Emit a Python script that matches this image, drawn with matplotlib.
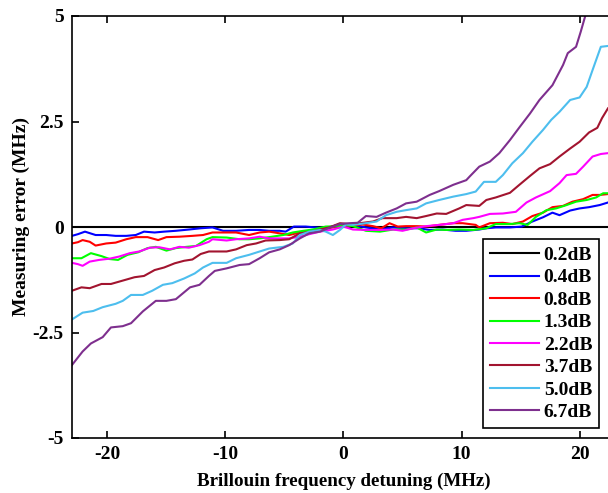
import numpy as np
import matplotlib
matplotlib.use("Agg")
import matplotlib.pyplot as plt

# legend labels and MATLAB-ish colours
labels = ['0.2dB', '0.4dB', '0.8dB', '1.3dB', '2.2dB', '3.7dB', '5.0dB', '6.7dB']
colors = ['black', (0, 0, 1), (1, 0, 0), (0, 1, 0), (1, 0, 1),
          (0.635, 0.078, 0.184), (0.301, 0.745, 0.933), (0.494, 0.184, 0.556)]

# 0.2dB
x_02 = [-23, -15, -5, 0, 5, 15, 22.4]
y_02 = [0, 0, 0, 0, 0, 0, 0]

# 0.4dB
x_04 = [-23, -22.5, -21.9, -21.0, -20.1, -19.3, -18.4, -17.6, -16.9, -16.0,
        -15.2, -14.2, -13.1, -12.1, -11.1, -10.2, -9.1, -8.0, -7.1, -6.3,
        -5.4, -4.9, -4.2, -3.2, -2.0, -1.2, -0.3, 0.8, 1.9, 3.1,
        4.2, 5.3, 6.4, 7.3, 8.4, 9.5, 10.4, 11.5, 12.1, 12.9,
        14.1, 15.1, 16.0, 16.9, 17.7, 18.3, 19.2, 20.0, 20.8, 21.7, 22.4]
y_04 = [-0.21, -0.17, -0.11, -0.19, -0.19, -0.21, -0.21, -0.19, -0.11, -0.13,
        -0.11, -0.09, -0.06, -0.03, -0.01, -0.09, -0.09, -0.07, -0.07, -0.09,
        -0.09, -0.11, 0.01, 0.01, -0.02, -0.01, 0.07, 0.05, -0.01, -0.06,
        -0.01, -0.03, -0.03, -0.07, -0.06, -0.09, -0.09, -0.06, -0.03, -0.01,
        -0.01, 0.01, 0.13, 0.23, 0.34, 0.28, 0.39, 0.44, 0.47, 0.52, 0.58]

# 0.8dB
x_08 = [-23, -22.5, -22.1, -21.5, -21.0, -20.1, -19.3, -18.4, -17.6, -16.6,
        -15.7, -15.0, -13.9, -12.8, -11.9, -11.1, -9.9, -9.1, -8.0, -7.1,
        -6.3, -5.4, -4.6, -3.7, -2.9, -2.0, -0.9, 0.0, 0.5, 1.6,
        2.5, 3.2, 3.9, 4.6, 5.3, 6.2, 7.0, 8.1, 9.3, 10.1,
        11.2, 11.5, 12.4, 13.5, 14.3, 15.2, 16.0, 16.9, 17.7, 18.6,
        19.4, 20.3, 21.1, 21.7, 22.4]
y_08 = [-0.39, -0.36, -0.31, -0.35, -0.44, -0.39, -0.37, -0.29, -0.24, -0.24,
        -0.31, -0.24, -0.23, -0.21, -0.19, -0.13, -0.13, -0.13, -0.19, -0.13,
        -0.11, -0.15, -0.19, -0.13, -0.09, -0.06, -0.01, 0.05, 0.02, 0.06,
        0.02, -0.03, 0.09, 0.01, 0.02, 0.02, 0.01, 0.05, 0.09, 0.09,
        0.05, -0.01, 0.09, 0.10, 0.07, 0.13, 0.26, 0.34, 0.47, 0.50,
        0.60, 0.66, 0.76, 0.76, 0.78]

# 1.3dB
x_13 = [-23, -22.2, -21.4, -20.5, -19.8, -19.1, -18.3, -17.4, -16.6, -15.9,
        -15.0, -14.2, -13.3, -12.5, -11.6, -11.1, -9.9, -8.8, -8.0, -7.1,
        -6.3, -5.1, -4.3, -3.4, -2.6, -1.5, -0.3, 0.0, 0.8, 1.9,
        3.1, 4.2, 5.3, 6.2, 7.0, 7.9, 8.7, 9.8, 11.0, 12.1,
        12.9, 14.1, 14.9, 15.6, 16.3, 17.2, 18.0, 18.9, 19.7, 20.6,
        21.4, 22.0, 22.4]
y_13 = [-0.74, -0.74, -0.62, -0.69, -0.76, -0.78, -0.66, -0.60, -0.50, -0.47,
        -0.56, -0.50, -0.47, -0.45, -0.29, -0.24, -0.25, -0.29, -0.29, -0.27,
        -0.24, -0.19, -0.13, -0.09, -0.06, 0.01, 0.02, 0.05, 0.02, -0.09,
        -0.11, -0.06, -0.06, -0.01, -0.13, -0.06, -0.07, -0.06, -0.07, -0.03,
        0.07, 0.07, 0.09, 0.05, 0.24, 0.40, 0.44, 0.52, 0.60, 0.64,
        0.70, 0.80, 0.80]

# 2.2dB
x_22 = [-23, -22.5, -22.1, -21.5, -20.7, -19.8, -19.0, -18.1, -17.3, -16.4,
        -15.6, -14.7, -13.9, -13.1, -12.2, -11.4, -11.1, -9.9, -9.1, -8.0,
        -7.1, -6.3, -5.4, -4.6, -3.7, -2.9, -2.0, -0.9, 0.0, 0.8,
        1.9, 3.1, 4.2, 5.0, 5.9, 7.0, 8.1, 9.3, 10.1, 11.0,
        11.5, 12.4, 13.5, 14.6, 15.5, 16.3, 17.5, 18.3, 18.9, 19.7,
        20.3, 21.1, 21.8, 22.4]
y_22 = [-0.85, -0.88, -0.92, -0.82, -0.78, -0.75, -0.70, -0.62, -0.58, -0.49,
        -0.48, -0.53, -0.47, -0.49, -0.43, -0.35, -0.29, -0.32, -0.29, -0.27,
        -0.23, -0.27, -0.27, -0.27, -0.23, -0.17, -0.11, -0.06, 0.01, -0.06,
        -0.07, -0.07, -0.06, -0.09, -0.03, 0.02, 0.05, 0.09, 0.17, 0.21,
        0.24, 0.31, 0.32, 0.36, 0.58, 0.70, 0.85, 1.04, 1.23, 1.26,
        1.43, 1.67, 1.73, 1.75]

# 3.7dB
x_37 = [-23, -22.2, -21.5, -20.5, -19.7, -18.7, -17.7, -16.9, -16.0, -15.2,
        -14.3, -13.5, -12.8, -12.1, -11.4, -11.1, -9.9, -9.1, -8.2, -7.4,
        -6.6, -5.4, -4.6, -3.7, -2.9, -2.0, -1.2, -0.3, 0.5, 1.4,
        2.5, 3.3, 4.5, 5.3, 6.2, 7.0, 7.9, 8.7, 9.8, 10.4,
        11.5, 12.1, 12.9, 14.1, 14.9, 15.8, 16.6, 17.5, 18.3, 19.2,
        20.0, 20.8, 21.5, 21.9, 22.4]
y_37 = [-1.51, -1.43, -1.45, -1.35, -1.35, -1.27, -1.19, -1.16, -1.02, -0.96,
        -0.86, -0.80, -0.77, -0.64, -0.58, -0.58, -0.58, -0.53, -0.43, -0.39,
        -0.32, -0.31, -0.29, -0.15, -0.13, -0.06, -0.01, 0.09, 0.07, 0.09,
        0.13, 0.21, 0.21, 0.24, 0.21, 0.26, 0.32, 0.31, 0.44, 0.52,
        0.50, 0.64, 0.70, 0.81, 1.00, 1.21, 1.39, 1.49, 1.67, 1.86,
        2.02, 2.24, 2.35, 2.58, 2.81]

# 5.0dB
x_50 = [-23, -22.1, -21.2, -20.4, -19.3, -18.7, -18.0, -17.0, -16.2, -15.3,
        -14.5, -13.5, -12.6, -11.9, -11.1, -9.9, -9.1, -8.0, -7.1, -6.3,
        -5.1, -4.3, -3.7, -2.9, -2.0, -1.5, -0.9, -0.3, 0.2, 0.8,
        1.9, 2.8, 3.6, 4.5, 5.3, 6.2, 7.0, 8.1, 9.3, 10.4,
        11.2, 11.9, 12.9, 13.5, 14.3, 15.2, 16.0, 16.9, 17.6, 18.3,
        19.2, 20.0, 20.6, 21.1, 21.8, 22.4]
y_50 = [-2.19, -2.03, -1.99, -1.90, -1.82, -1.75, -1.61, -1.61, -1.51, -1.37,
        -1.33, -1.22, -1.10, -0.96, -0.85, -0.85, -0.74, -0.66, -0.58, -0.51,
        -0.47, -0.39, -0.19, -0.11, -0.07, -0.11, -0.19, -0.07, 0.06, 0.05,
        0.09, 0.13, 0.28, 0.36, 0.40, 0.44, 0.56, 0.64, 0.72, 0.78,
        0.84, 1.07, 1.07, 1.23, 1.51, 1.75, 2.02, 2.30, 2.54, 2.73,
        3.01, 3.07, 3.32, 3.72, 4.27, 4.29]

# 6.7dB
x_67 = [-23, -22.1, -21.4, -20.4, -19.7, -18.7, -18.0, -17.0, -15.9, -15.0,
        -14.2, -13.0, -12.2, -11.4, -10.9, -9.9, -8.8, -8.0, -7.1, -6.3,
        -5.4, -4.6, -3.7, -2.9, -2.0, -1.2, -0.3, 0.5, 1.2, 1.9,
        2.8, 3.6, 4.5, 5.3, 6.2, 7.3, 8.1, 9.3, 10.4, 10.7,
        11.5, 12.4, 13.2, 14.1, 14.9, 15.8, 16.6, 17.7, 18.6, 19.0,
        19.7, 20.1, 20.5, 21.0]
y_67 = [-3.27, -2.95, -2.76, -2.61, -2.38, -2.35, -2.28, -2.00, -1.75, -1.75,
        -1.71, -1.43, -1.37, -1.16, -1.04, -0.98, -0.90, -0.88, -0.74, -0.60,
        -0.53, -0.43, -0.27, -0.15, -0.11, -0.02, 0.07, 0.09, 0.10, 0.26,
        0.24, 0.34, 0.44, 0.56, 0.60, 0.76, 0.85, 1.00, 1.11, 1.20,
        1.43, 1.55, 1.75, 2.06, 2.36, 2.69, 3.01, 3.36, 3.84, 4.12,
        4.27, 4.63, 5.02, 5.60]

xs = [x_02, x_04, x_08, x_13, x_22, x_37, x_50, x_67]
ys = [y_02, y_04, y_08, y_13, y_22, y_37, y_50, y_67]

plt.rcParams['font.family'] = 'Liberation Serif'
plt.rcParams['font.weight'] = 'bold'

fig = plt.figure(figsize=(6.08, 4.93), dpi=100)
ax = fig.add_axes([72 / 608, 55 / 493, 543 / 608, 422 / 493])

for x, y, c, lab in zip(xs, ys, colors, labels):
    ax.plot(x, y, color=c, lw=1.5, label=lab)

ax.set_xlim(-23, 23)
ax.set_ylim(-5, 5)
ax.set_xticks([-20, -10, 0, 10, 20])
ax.set_yticks([-5, -2.5, 0, 2.5, 5])
ax.set_yticklabels(['-5', '-2.5', '0', '2.5', '5'])
ax.set_xticklabels(['-20', '-10', '0', '10', '20'])
ax.tick_params(direction='in', top=True, right=True, length=5, width=1.2,
               labelsize=14, pad=6)
for s in ax.spines.values():
    s.set_linewidth(1.2)

ax.set_xlabel('Brillouin frequency detuning (MHz)', fontsize=13.7, fontweight='bold', labelpad=7)
ax.set_ylabel('Measuring error (MHz)', fontsize=14, fontweight='bold')
ax.yaxis.set_label_coords(-0.078, 0.525)

leg = ax.legend(loc='lower right', bbox_to_anchor=(599 / 608, 65 / 493),
                bbox_transform=fig.transFigure, borderaxespad=0,
                handlelength=2.5, handletextpad=0.25, labelspacing=0.25,
                borderpad=0.35, fancybox=False, framealpha=1, edgecolor='black',
                prop={'weight': 'bold', 'size': 14})
leg.get_frame().set_linewidth(1.2)

fig.savefig('out.png', dpi=100)
